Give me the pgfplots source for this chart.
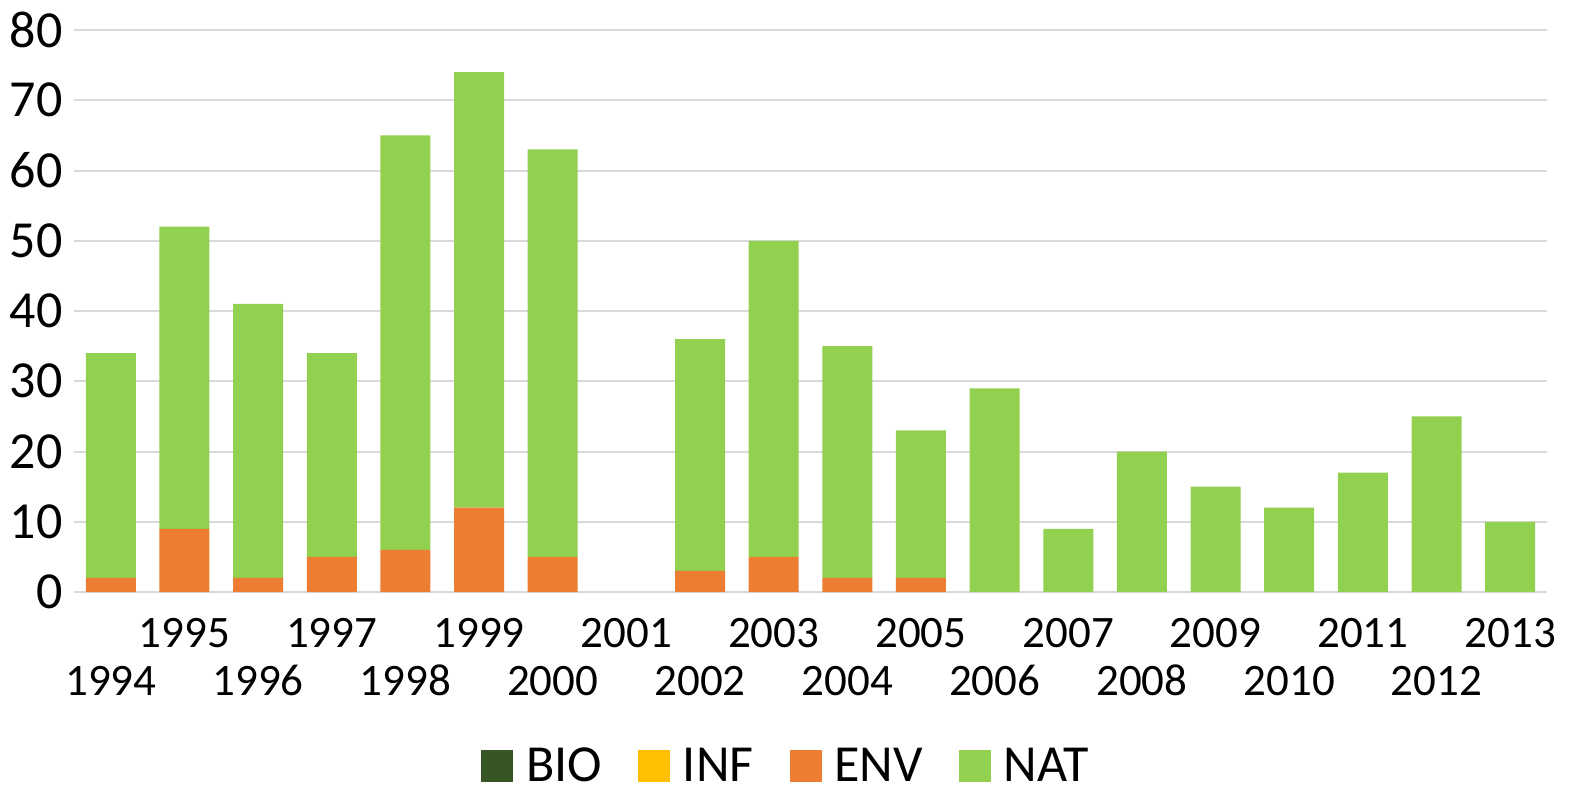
\documentclass[border=0pt]{standalone}
\usepackage{fontspec}
\setmainfont{Carlito}
\usepackage{pgfplots}
\pgfplotsset{compat=1.18}
\definecolor{bio}{HTML}{375623}
\definecolor{inf}{HTML}{FFC000}
\definecolor{env}{HTML}{ED7D31}
\definecolor{nat}{HTML}{92D050}
\definecolor{gridc}{HTML}{D9D9D9}
\begin{document}
\begin{tikzpicture}
\useasboundingbox (-37pt,-101pt) rectangle (747.5pt,296pt);
\begin{axis}[
  at={(0,0)}, anchor=south west,
  scale only axis, width=736.5pt, height=281pt,
  ybar stacked, bar width=25pt,
  xmin=-0.5, xmax=19.5, ymin=0, ymax=80,
  ytick={0,10,...,80},
  axis line style={draw=none}, major tick length=0pt,
  ymajorgrids, grid style={gridc, line width=1pt},
  /pgf/number format/assume math mode=true,
  xtick={0,2,...,18},
  xticklabels={1994,1996,1998,2000,2002,2004,2006,2008,2010,2012},
  extra x ticks={1,3,...,19},
  extra x tick labels={1995,1997,1999,2001,2003,2005,2007,2009,2011,2013},
  extra x tick style={tick label style={yshift=24pt}},
  xticklabel style={font=\fontsize{22.5}{26}\selectfont, anchor=base, inner sep=0pt, yshift=-51.5pt},
  yticklabel style={font=\fontsize{26}{30}\selectfont, anchor=east, inner sep=0pt, xshift=-5.5pt},
  legend columns=4,
  legend image code/.code={\fill[#1,draw=none] (0pt,-8pt) rectangle (16pt,8pt);},
  legend style={at={(axis description cs:0.4827,-0.310)}, anchor=center, draw=none,
    font=\fontsize{26}{30}\selectfont, nodes={inner sep=0pt},
    /tikz/every odd column/.append style={column sep=6.5pt},
    /tikz/every even column/.append style={column sep=18pt}},
]
\addplot[fill=bio, draw=none] coordinates {(0,0)(1,0)(2,0)(3,0)(4,0)(5,0)(6,0)(7,0)(8,0)(9,0)(10,0)(11,0)(12,0)(13,0)(14,0)(15,0)(16,0)(17,0)(18,0)(19,0)};
\addplot[fill=inf, draw=none] coordinates {(0,0)(1,0)(2,0)(3,0)(4,0)(5,0)(6,0)(7,0)(8,0)(9,0)(10,0)(11,0)(12,0)(13,0)(14,0)(15,0)(16,0)(17,0)(18,0)(19,0)};
\addplot[fill=env, draw=none] coordinates {(0,2)(1,9)(2,2)(3,5)(4,6)(5,12)(6,5)(7,0)(8,3)(9,5)(10,2)(11,2)(12,0)(13,0)(14,0)(15,0)(16,0)(17,0)(18,0)(19,0)};
\addplot[fill=nat, draw=none] coordinates {(0,32)(1,43)(2,39)(3,29)(4,59)(5,62)(6,58)(7,0)(8,33)(9,45)(10,33)(11,21)(12,29)(13,9)(14,20)(15,15)(16,12)(17,17)(18,25)(19,10)};
\legend{BIO,INF,ENV,NAT}
\end{axis}
\end{tikzpicture}
\end{document}
